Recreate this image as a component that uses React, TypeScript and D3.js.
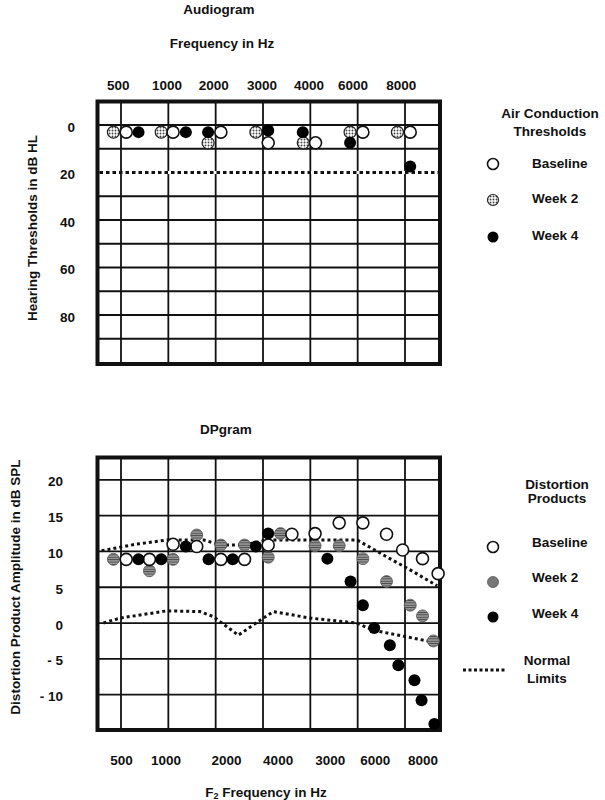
import React from "react";
import * as d3 from "d3";

// ---------- Audiogram data ----------
const audFreqLabels = ["500", "1000", "2000", "3000", "4000", "6000", "8000"];
const audLabelPos = [-0.06, 0.97, 1.96, 2.98, 3.97, 4.9, 5.92];
const audGridPos = [0, 1, 2, 3, 4, 5, 6];
const audYTicks = [0, 20, 40, 60, 80];
const audYGrid = [0, 10, 20, 30, 40, 50, 60, 70, 80, 90];
const audNormal = 20;

const audBaselinePos = [0.11, 1.1, 2.11, 3.11, 4.11, 5.11, 6.11];
const audBaselineDb = [3, 3, 3, 7.5, 7.5, 3, 3];
const audWeek2Pos = [-0.16, 0.85, 1.84, 2.85, 3.85, 4.84, 5.84];
const audWeek2Db = [3, 3, 7.5, 3, 7.5, 3, 3];
const audWeek4Pos = [0.37, 1.37, 1.84, 3.11, 3.84, 4.84, 6.11];
const audWeek4Db = [3, 3, 3, 2.3, 3, 7.5, 17.5];

// ---------- DPgram data ----------
const dpFreqLabels = ["500", "1000", "2000", "4000", "3000", "6000", "8000"];
const dpLabelPos = [0.01, 0.95, 2.23, 3.32, 4.42, 5.37, 6.38];
const dpGridPos = [0, 1, 2, 3, 4, 5, 6];
const dpYTicks = [20, 15, 10, 5, 0, -5, -10];

const dpBaselinePos = [0.11, 0.6, 1.1, 1.6, 2.11, 2.61, 3.11, 3.61, 4.1, 4.61, 5.11, 5.61, 5.95, 6.37, 6.7];
const dpBaselineDb = [8.9, 8.9, 11.0, 10.7, 8.9, 8.9, 10.9, 12.4, 12.5, 14.0, 14.0, 12.4, 10.2, 9.0, 6.9];
const dpWeek2Pos = [-0.16, 0.6, 1.1, 1.6, 2.11, 2.61, 3.11, 3.37, 4.1, 4.61, 5.11, 5.61, 6.11, 6.37, 6.6];
const dpWeek2Db = [8.9, 7.3, 8.9, 12.3, 10.9, 10.9, 9.2, 12.5, 10.8, 10.8, 9.0, 5.8, 2.5, 1.0, -2.5];
const dpWeek4Pos = [0.37, 0.85, 1.37, 1.85, 2.36, 2.85, 3.11, 4.36, 4.85, 5.11, 5.35, 5.68, 5.86, 6.2, 6.35, 6.62];
const dpWeek4Db = [8.9, 8.9, 10.7, 8.9, 8.9, 10.7, 12.5, 9.0, 5.8, 2.5, -0.7, -3.1, -5.9, -8.0, -10.8, -14.1];

const normUpperPos = [-0.41, 0.3, 0.97, 1.75, 2.1, 2.6, 3.1, 4.99, 5.68, 6.17, 6.68];
const normUpperDb = [10.1, 11.0, 11.6, 11.6, 10.9, 10.9, 11.6, 11.6, 9.0, 7.2, 5.2];
const normLowerPos = [-0.37, -0.02, 0.97, 1.67, 1.95, 2.48, 2.94, 3.22, 3.99, 4.98, 5.33, 6.62];
const normLowerDb = [0.0, 0.7, 1.7, 1.6, 0.9, -1.7, 0.4, 1.6, 0.7, 0.0, -1.0, -2.7];

const FONT = "'Liberation Sans', Arial, Helvetica, sans-serif";
const FS = 13.5;

const zip = (a: number[], b: number[]) => a.map((v, i) => [v, b[i]] as [number, number]);

export default function App() {
  // shared x (grid index units)
  const x = d3.scaleLinear().domain([0, 6]).range([121, 405]);
  const frameL = 97.5;
  const frameR = 440;

  // audiogram y
  const ya = d3.scaleLinear().domain([-10, 100]).range([101.25, 362.5]);
  const aTop = 101.5, aBot = 364;
  // dpgram y
  const yd = d3.scaleLinear().domain([-15, 23.2]).range([730.4, 457]);
  const dTop = 457.5, dBot = 730;

  const r = 6;
  const txt = { fontFamily: FONT, fontWeight: 700, fontSize: FS, fill: "#111" } as const;

  const line = (ys: d3.ScaleLinear<number, number>) =>
    d3.line<[number, number]>().x((d) => x(d[0])).y((d) => ys(d[1]));

  return (
    <svg width={605} height={800} style={{ position: "absolute", left: 0, top: 0, background: "#fff" }}>
      <defs>
        <pattern id="audW2" width={3} height={3} patternUnits="userSpaceOnUse">
          <rect width={3} height={3} fill="#fff" />
          <circle cx={1.5} cy={1.5} r={0.95} fill="#444" />
        </pattern>
        <pattern id="dpW2" width={4} height={2.4} patternUnits="userSpaceOnUse">
          <rect width={4} height={2.4} fill="#9a9a9a" />
          <rect width={4} height={0.9} fill="#444" />
        </pattern>
      </defs>

      {/* ================= AUDIOGRAM ================= */}
      <text x={219} y={14} textAnchor="middle" {...txt}>Audiogram</text>
      <text x={222} y={48} textAnchor="middle" {...txt}>Frequency in Hz</text>
      {audFreqLabels.map((l, i) => (
        <text key={"al" + i} x={x(audLabelPos[i])} y={90} textAnchor="middle" {...txt}>{l}</text>
      ))}
      {audYTicks.map((t) => (
        <text key={"ay" + t} x={75} y={ya(t) + 6.5} textAnchor="end" {...txt}>{t}</text>
      ))}
      <text transform={`translate(37,228) rotate(-90)`} textAnchor="middle" {...txt}>Hearing Thresholds in dB HL</text>

      {audYGrid.map((g) => (
        <line key={"ag" + g} x1={frameL} x2={frameR} y1={ya(g)} y2={ya(g)} stroke="#111" strokeWidth={1.8} />
      ))}
      {audGridPos.map((g) => (
        <line key={"agv" + g} x1={x(g)} x2={x(g)} y1={aTop} y2={aBot} stroke="#111" strokeWidth={1.8} />
      ))}
      <line x1={frameL + 2} x2={frameR - 2} y1={ya(audNormal)} y2={ya(audNormal)} stroke="#fff" strokeWidth={3} />
      <line x1={frameL + 2} x2={frameR - 2} y1={ya(audNormal)} y2={ya(audNormal)} stroke="#111" strokeWidth={3.2} strokeDasharray="3.5 3" />
      <rect x={frameL} y={aTop} width={frameR - frameL} height={aBot - aTop} fill="none" stroke="#111" strokeWidth={4} />

      {zip(audWeek2Pos, audWeek2Db).map((d, i) => (
        <circle key={"aw2" + i} cx={x(d[0])} cy={ya(d[1])} r={r} fill="url(#audW2)" stroke="#222" strokeWidth={1.2} />
      ))}
      {zip(audBaselinePos, audBaselineDb).map((d, i) => (
        <circle key={"ab" + i} cx={x(d[0])} cy={ya(d[1])} r={r} fill="#fff" stroke="#111" strokeWidth={1.6} />
      ))}
      {zip(audWeek4Pos, audWeek4Db).map((d, i) => (
        <circle key={"aw4" + i} cx={x(d[0])} cy={ya(d[1])} r={r} fill="#000" />
      ))}

      {/* audiogram legend */}
      <text x={550} y={118} textAnchor="middle" {...txt}>Air Conduction</text>
      <text x={550} y={136} textAnchor="middle" {...txt}>Thresholds</text>
      <circle cx={493} cy={164} r={5.5} fill="#fff" stroke="#111" strokeWidth={1.6} />
      <text x={532} y={167.5} {...txt}>Baseline</text>
      <circle cx={493} cy={200} r={5.5} fill="url(#audW2)" stroke="#222" strokeWidth={1.2} />
      <text x={532} y={203} {...txt}>Week 2</text>
      <circle cx={493} cy={237} r={5.5} fill="#000" />
      <text x={532} y={240} {...txt}>Week 4</text>

      {/* ================= DPGRAM ================= */}
      <text x={226} y={434} textAnchor="middle" {...txt}>DPgram</text>
      {dpYTicks.map((t) => (
        <text key={"dy" + t} x={63} y={yd(t) + 6.5} textAnchor="end" {...txt}>{t < 0 ? `- ${Math.abs(t)}` : t}</text>
      ))}
      <text transform={`translate(20,587) rotate(-90)`} textAnchor="middle" {...txt}>Distortion Product Amplitude in dB SPL</text>

      {dpYTicks.map((g) => (
        <line key={"dg" + g} x1={frameL} x2={frameR} y1={yd(g)} y2={yd(g)} stroke="#111" strokeWidth={1.8} />
      ))}
      {dpGridPos.map((g) => (
        <line key={"dgv" + g} x1={x(g)} x2={x(g)} y1={dTop} y2={dBot} stroke="#111" strokeWidth={1.8} />
      ))}
      <path d={line(yd)(zip(normUpperPos, normUpperDb)) || ""} fill="none" stroke="#111" strokeWidth={3} strokeDasharray="3 3" />
      <path d={line(yd)(zip(normLowerPos, normLowerDb)) || ""} fill="none" stroke="#111" strokeWidth={3} strokeDasharray="3 3" />
      <rect x={frameL} y={dTop} width={frameR - frameL} height={dBot - dTop} fill="none" stroke="#111" strokeWidth={4} />

      {zip(dpWeek2Pos, dpWeek2Db).map((d, i) => (
        <circle key={"dw2" + i} cx={x(d[0])} cy={yd(d[1])} r={r} fill="url(#dpW2)" stroke="#555" strokeWidth={0.8} />
      ))}
      {zip(dpBaselinePos, dpBaselineDb).map((d, i) => (
        <circle key={"db" + i} cx={x(d[0])} cy={yd(d[1])} r={r} fill="#fff" stroke="#111" strokeWidth={1.6} />
      ))}
      {zip(dpWeek4Pos, dpWeek4Db).map((d, i) => (
        <circle key={"dw4" + i} cx={x(d[0])} cy={yd(d[1])} r={r} fill="#000" />
      ))}

      {dpFreqLabels.map((l, i) => (
        <text key={"dl" + i} x={x(dpLabelPos[i])} y={765} textAnchor="middle" {...txt}>{l}</text>
      ))}
      <text x={266} y={797} textAnchor="middle" {...txt}>
        F<tspan fontSize={9} dy={2}>2</tspan>
        <tspan dy={-2}> Frequency in Hz</tspan>
      </text>

      {/* dpgram legend */}
      <text x={557} y={489} textAnchor="middle" {...txt}>Distortion</text>
      <text x={557} y={503} textAnchor="middle" {...txt}>Products</text>
      <circle cx={493} cy={547} r={5.5} fill="#fff" stroke="#111" strokeWidth={1.6} />
      <text x={532} y={547} {...txt}>Baseline</text>
      <circle cx={493} cy={582} r={5.5} fill="#777" stroke="#555" strokeWidth={0.8} />
      <text x={532} y={582} {...txt}>Week 2</text>
      <circle cx={493} cy={617} r={5.5} fill="#000" />
      <text x={532} y={618} {...txt}>Week 4</text>
      <line x1={463} x2={505} y1={670} y2={670} stroke="#111" strokeWidth={3} strokeDasharray="3 2.5" />
      <text x={547} y={665} textAnchor="middle" {...txt}>Normal</text>
      <text x={547} y={683} textAnchor="middle" {...txt}>Limits</text>
    </svg>
  );
}
